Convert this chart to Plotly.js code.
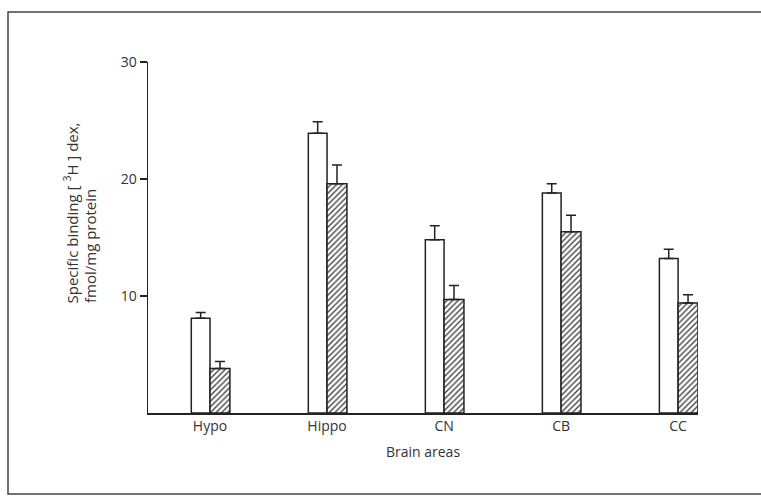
<!DOCTYPE html>
<html>
<head>
<meta charset="utf-8">
<script src="https://cdn.plot.ly/plotly-3.0.1.min.js"></script>
<style>
html, body { margin: 0; padding: 0; background: #ffffff; }
#chart { width: 761px; height: 501px; }
</style>
</head>
<body>
<div id="chart"></div>
<script>
// Data
const areas = ["Hypo", "Hippo", "CN", "CB", "CC"];
const openValues = [8.1, 23.9, 14.8, 18.8, 13.2];
const openErrors = [0.5, 1.0, 1.2, 0.8, 0.8];
const hatchedValues = [3.8, 19.6, 9.7, 15.5, 9.4];
const hatchedErrors = [0.6, 1.6, 1.2, 1.4, 0.7];
const noLowerError = [0, 0, 0, 0, 0];
const yTickValues = [10, 20, 30];
const yTitleLine1 = "Specific binding [ <sup>3</sup>H ] dex,";
const yTitleLine2 = "fmol/mg protein";
const xTitle = "Brain areas";

const ink = "#222222";
const textColor = "#333333";
const fontFamily = "'Open Sans', 'DejaVu Sans', sans-serif";

const errStyle = (arr) => ({
  type: "data", symmetric: false, array: arr, arrayminus: noLowerError,
  color: ink, thickness: 1.5, width: 5, visible: true
});

const traces = [
  {
    type: "bar", name: "open", x: areas, y: openValues,
    offset: -0.16, width: 0.16,
    marker: { color: "#ffffff", line: { color: ink, width: 1.5 } },
    error_y: errStyle(openErrors),
    showlegend: false, hoverinfo: "x+y"
  },
  {
    type: "bar", name: "hatched", x: areas, y: hatchedValues,
    offset: 0, width: 0.17,
    marker: {
      color: "#ffffff",
      line: { color: ink, width: 1.5 },
      pattern: { shape: "/", fgcolor: "#444444", bgcolor: "#ffffff", size: 4, solidity: 0.35 }
    },
    error_y: errStyle(hatchedErrors),
    showlegend: false, hoverinfo: "x+y"
  }
];

const layout = {
  width: 761, height: 501,
  margin: { l: 148, r: 63, t: 62, b: 88 },
  paper_bgcolor: "#ffffff", plot_bgcolor: "#ffffff",
  font: { family: fontFamily, size: 14, color: textColor },
  barmode: "group",
  xaxis: {
    type: "category",
    range: [-0.53, 4.17],
    showline: true, linecolor: ink, linewidth: 1.5,
    ticks: "", showgrid: false, zeroline: false,
    tickfont: { family: fontFamily, size: 14, color: textColor },
    title: { text: xTitle, standoff: 13, font: { family: fontFamily, size: 14, color: textColor } }
  },
  yaxis: {
    range: [0, 30],
    tickvals: yTickValues,
    ticks: "outside", ticklen: 7, tickwidth: 1.5, tickcolor: ink,
    showline: true, linecolor: ink, linewidth: 1.5,
    showgrid: false, zeroline: false,
    tickfont: { family: fontFamily, size: 14, color: textColor }
  },
  annotations: [
    {
      xref: "paper", yref: "paper",
      x: (71 - 148) / 550, y: (413 - 305) / 351,
      xanchor: "center", yanchor: "bottom",
      textangle: -90, showarrow: false,
      text: yTitleLine1,
      font: { family: fontFamily, size: 15, color: textColor }
    },
    {
      xref: "paper", yref: "paper",
      x: (90 - 148) / 550, y: (413 - 305) / 351,
      xanchor: "center", yanchor: "bottom",
      textangle: -90, showarrow: false,
      text: yTitleLine2,
      font: { family: fontFamily, size: 15, color: textColor }
    }
  ],
  shapes: [
    {
      type: "rect", xref: "paper", yref: "paper",
      x0: (8 - 148) / 550, x1: 1.2,
      y0: (413 - 494) / 351, y1: (413 - 12) / 351,
      line: { color: "#444444", width: 1.5 }, fillcolor: "rgba(0,0,0,0)",
      layer: "below"
    }
  ]
};

Plotly.newPlot("chart", traces, layout, { displayModeBar: false, staticPlot: true });
</script>
</body>
</html>
